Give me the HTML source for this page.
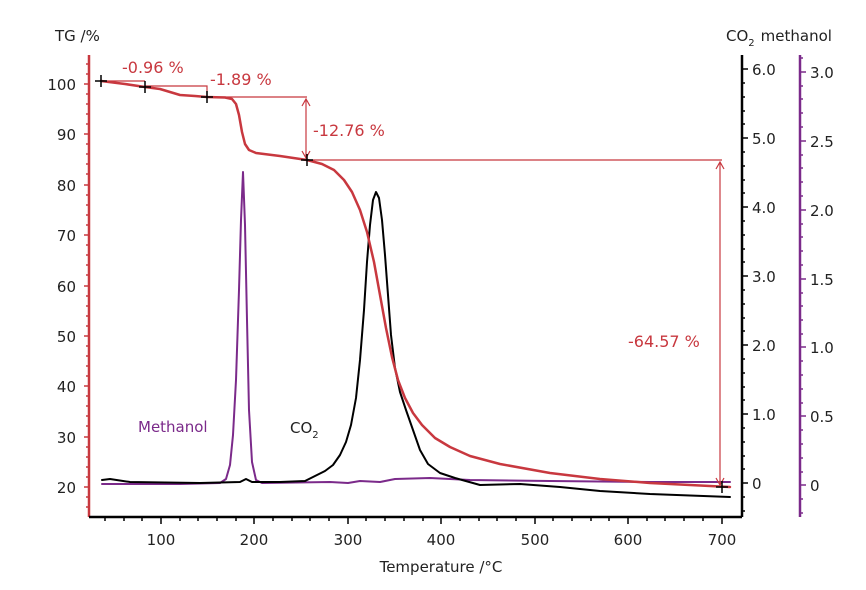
<!DOCTYPE html><html><head><style>body{margin:0;background:#fff}svg{display:block;font-family:"DejaVu Sans","Liberation Sans",sans-serif}</style></head><body>
<svg width="866" height="590" xmlns="http://www.w3.org/2000/svg">
<line x1="89" y1="55" x2="89" y2="517" stroke="#c8383f" stroke-width="2.5"/>
<g stroke="#c8383f" stroke-width="1.5">
<path d="M84 84h5M84 134h5M84 185h5M84 235h5M84 286h5M84 336h5M84 386h5M84 437h5M84 487h5"/>
<path d="M86 64h3M86 74h3M86 94h3M86 104h3M86 114h3M86 124h3M86 144h3M86 154h3M86 164h3M86 174h3M86 195h3M86 205h3M86 215h3M86 225h3M86 245h3M86 255h3M86 265h3M86 275h3M86 296h3M86 306h3M86 316h3M86 326h3M86 346h3M86 356h3M86 366h3M86 376h3M86 396h3M86 406h3M86 416h3M86 426h3M86 447h3M86 457h3M86 467h3M86 477h3M86 497h3M86 507h3"/>
</g>
<line x1="89" y1="517" x2="742" y2="517" stroke="#000" stroke-width="2.5"/>
<g stroke="#000" stroke-width="1.5">
<path d="M161 517v7M254 517v7M348 517v7M441 517v7M535 517v7M628 517v7M722 517v7"/>
<path d="M105 517v4M124 517v4M142 517v4M180 517v4M198 517v4M217 517v4M236 517v4M273 517v4M292 517v4M310 517v4M329 517v4M366 517v4M385 517v4M404 517v4M423 517v4M460 517v4M479 517v4M497 517v4M516 517v4M553 517v4M572 517v4M591 517v4M609 517v4M647 517v4M665 517v4M684 517v4M703 517v4"/>
</g>
<line x1="742" y1="55" x2="742" y2="517" stroke="#000" stroke-width="2.5"/>
<g stroke="#000" stroke-width="1.5">
<path d="M742 69h6M742 138h6M742 207h6M742 276h6M742 345h6M742 414h6M742 483h6"/>
<path d="M742 83h3M742 97h3M742 111h3M742 124h3M742 152h3M742 166h3M742 180h3M742 193h3M742 221h3M742 235h3M742 249h3M742 262h3M742 290h3M742 304h3M742 318h3M742 331h3M742 359h3M742 373h3M742 387h3M742 400h3M742 428h3M742 442h3M742 456h3M742 469h3M742 497h3M742 511h3"/>
</g>
<line x1="800" y1="55" x2="800" y2="517" stroke="#7b2a8a" stroke-width="2.5"/>
<g stroke="#7b2a8a" stroke-width="1.5">
<path d="M800 72h6M800 141h6M800 210h6M800 279h6M800 347h6M800 416h6M800 485h6"/>
<path d="M800 58h3M800 86h3M800 99h3M800 113h3M800 127h3M800 155h3M800 168h3M800 182h3M800 196h3M800 224h3M800 237h3M800 251h3M800 265h3M800 293h3M800 306h3M800 320h3M800 334h3M800 361h3M800 375h3M800 389h3M800 403h3M800 430h3M800 444h3M800 458h3M800 472h3M800 499h3M800 513h3"/>
</g>
<g font-size="15" fill="#222" text-anchor="end">
<text x="76" y="90">100</text><text x="76" y="140">90</text><text x="76" y="191">80</text><text x="76" y="241">70</text><text x="76" y="292">60</text><text x="76" y="342">50</text><text x="76" y="392">40</text><text x="76" y="443">30</text><text x="76" y="493">20</text>
</g>
<text x="55" y="41" font-size="15" fill="#222">TG /%</text>
<g font-size="15" fill="#222" text-anchor="middle">
<text x="161" y="545">100</text><text x="254" y="545">200</text><text x="348" y="545">300</text><text x="441" y="545">400</text><text x="535" y="545">500</text><text x="628" y="545">600</text><text x="722" y="545">700</text>
<text x="441" y="572">Temperature /°C</text>
</g>
<g font-size="15" fill="#222">
<text x="752" y="75">6.0</text><text x="752" y="144">5.0</text><text x="752" y="213">4.0</text><text x="752" y="282">3.0</text><text x="752" y="351">2.0</text><text x="752" y="420">1.0</text><text x="752" y="489">0</text>
<text x="810" y="78">3.0</text><text x="810" y="147">2.5</text><text x="810" y="216">2.0</text><text x="810" y="285">1.5</text><text x="810" y="353">1.0</text><text x="810" y="422">0.5</text><text x="810" y="491">0</text>
<text x="726" y="41">CO<tspan font-size="10" dy="5">2</tspan><tspan dy="-5" dx="6">methanol</tspan></text>
<text x="290" y="433">CO<tspan font-size="10" dy="5">2</tspan></text>
</g>
<text x="138" y="432" font-size="15" fill="#7b2a8a">Methanol</text>
<g fill="none" stroke-linejoin="round" stroke-linecap="round">
<path d="M102 484 L180 484 L220 483 L226 479 L230 465 L233 435 L236 380 L239 290 L241 220 L243 172 L245 225 L247 320 L249 410 L252 462 L256 480 L262 483 L330 482 L348 483 L360 481 L380 482 L395 479 L430 478 L470 480 L550 481 L650 482 L730 482" stroke="#7b2a8a" stroke-width="2"/>
<path d="M102 480 L110 479 L130 482 L200 483 L240 482 L246 479 L252 482 L280 482 L305 481 L315 476 L325 471 L333 465 L340 455 L346 442 L351 425 L356 398 L360 360 L364 310 L367 262 L370 225 L373 200 L376 192 L379 198 L382 220 L385 255 L388 295 L391 335 L395 368 L400 392 L406 410 L413 430 L420 450 L428 464 L440 473 L455 478 L480 485 L520 484 L560 487 L600 491 L650 494 L730 497" stroke="#000" stroke-width="2"/>
<path d="M101 81 L125 84 L145 87 L160 89 L170 92 L180 95 L195 96 L207 97 L225 97.5 L232 99 L236 104 L239 115 L242 132 L245 144 L249 150 L256 153 L280 156 L307 160 L322 164 L334 170 L344 180 L352 192 L360 210 L367 232 L374 262 L380 295 L386 328 L392 357 L398 380 L405 398 L413 413 L422 425 L435 438 L450 447 L470 456 L500 464 L550 473 L600 479 L650 483 L730 487" stroke="#c8383f" stroke-width="2.5"/>
</g>
<g stroke="#c8383f" stroke-width="1.2" fill="none">
<path d="M101 81H145M145 86H207V97M207 97H307M307 160H722"/>
<path d="M306 99V158M302 106L306 99L310 106M302 151L306 158L310 151"/>
<path d="M720 162V485M716 169L720 162L724 169M716 478L720 485L724 478"/>
</g>
<g stroke="#000" stroke-width="1.5">
<path d="M95 81h12M101 75v12M139 87h12M145 81v12M201 97h12M207 91v12M301 160h12M307 154v12M716 487h12M722 481v12"/>
</g>
<g font-size="16" fill="#c8383f">
<text x="122" y="73">-0.96 %</text><text x="210" y="85">-1.89 %</text><text x="313" y="136">-12.76 %</text><text x="628" y="347">-64.57 %</text>
</g>
</svg></body></html>
